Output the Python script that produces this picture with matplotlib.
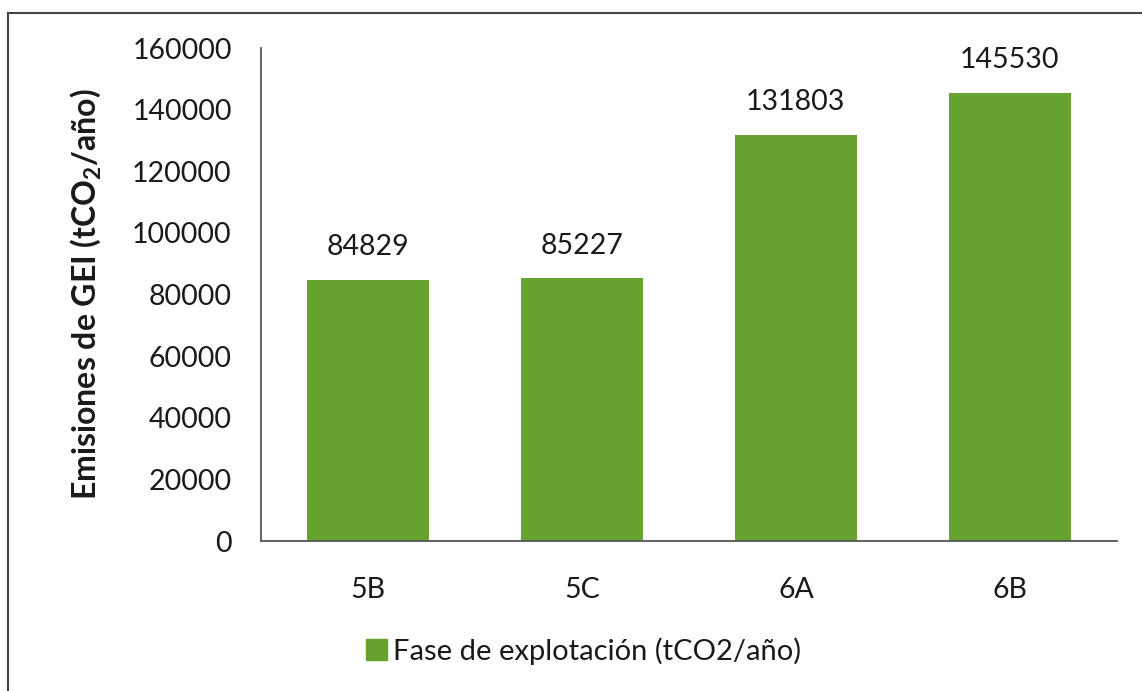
import numpy as np
import matplotlib.pyplot as plt
from matplotlib.lines import Line2D
from matplotlib.patches import Patch

# data
categories = ['5B', '5C', '6A', '6B']
values = [84829, 85227, 131803, 145530]
yticks = [0, 20000, 40000, 60000, 80000, 100000, 120000, 140000, 160000]

bar_color = '#66a32e'
plt.rcParams['font.family'] = ['Lato', 'DejaVu Sans']
plt.rcParams['mathtext.fontset'] = 'custom'
plt.rcParams['mathtext.rm'] = 'Lato'
plt.rcParams['mathtext.bf'] = 'Lato:bold'
plt.rcParams['mathtext.default'] = 'bf'

fig = plt.figure(figsize=(11.42, 6.91), dpi=100)
ax = fig.add_axes([0.2285, 0.217, 0.7495, 0.7135])

x = np.arange(len(categories))
bars = ax.bar(x, values, width=0.57, color=bar_color)
ax.bar_label(bars, labels=[str(v) for v in values], padding=14, fontsize=20.5, color='#1a1a1a')

ax.set_xlim(-0.5, len(categories) - 0.5)
ax.set_ylim(0, 160000)
ax.set_yticks(yticks)
ax.set_xticks(x)
ax.set_xticklabels(categories)
ax.tick_params(axis='y', length=0, pad=21, labelsize=20.5, labelcolor='#1a1a1a')
ax.tick_params(axis='x', length=0, pad=26, labelsize=20.5, labelcolor='#1a1a1a')

for s in ['top', 'right']:
    ax.spines[s].set_visible(False)
for s in ['left', 'bottom']:
    ax.spines[s].set_color('#555555')
    ax.spines[s].set_linewidth(1.3)

ax.set_ylabel('Emisiones de GEI (tCO$_2$/año)', fontsize=23, fontweight='bold',
              color='#1a1a1a')
ax.yaxis.set_label_coords(-0.185, 0.5)

# legend below the plot
fig.legend(handles=[Patch(color=bar_color)], labels=['Fase de explotación (tCO2/año)'],
           loc='center', bbox_to_anchor=(0.511, 0.058), frameon=False, fontsize=21,
           handlelength=0.7, handleheight=0.7, handletextpad=0.2, labelcolor='#1a1a1a')

# outer frame (cut off at right and bottom in the scan)
fig.add_artist(Line2D([0.007, 0.007], [-0.01, 0.981], color='#444444', lw=1.5))
fig.add_artist(Line2D([0.007, 1.01], [0.981, 0.981], color='#444444', lw=1.5))

fig.savefig('out.png', dpi=100, facecolor='white')
